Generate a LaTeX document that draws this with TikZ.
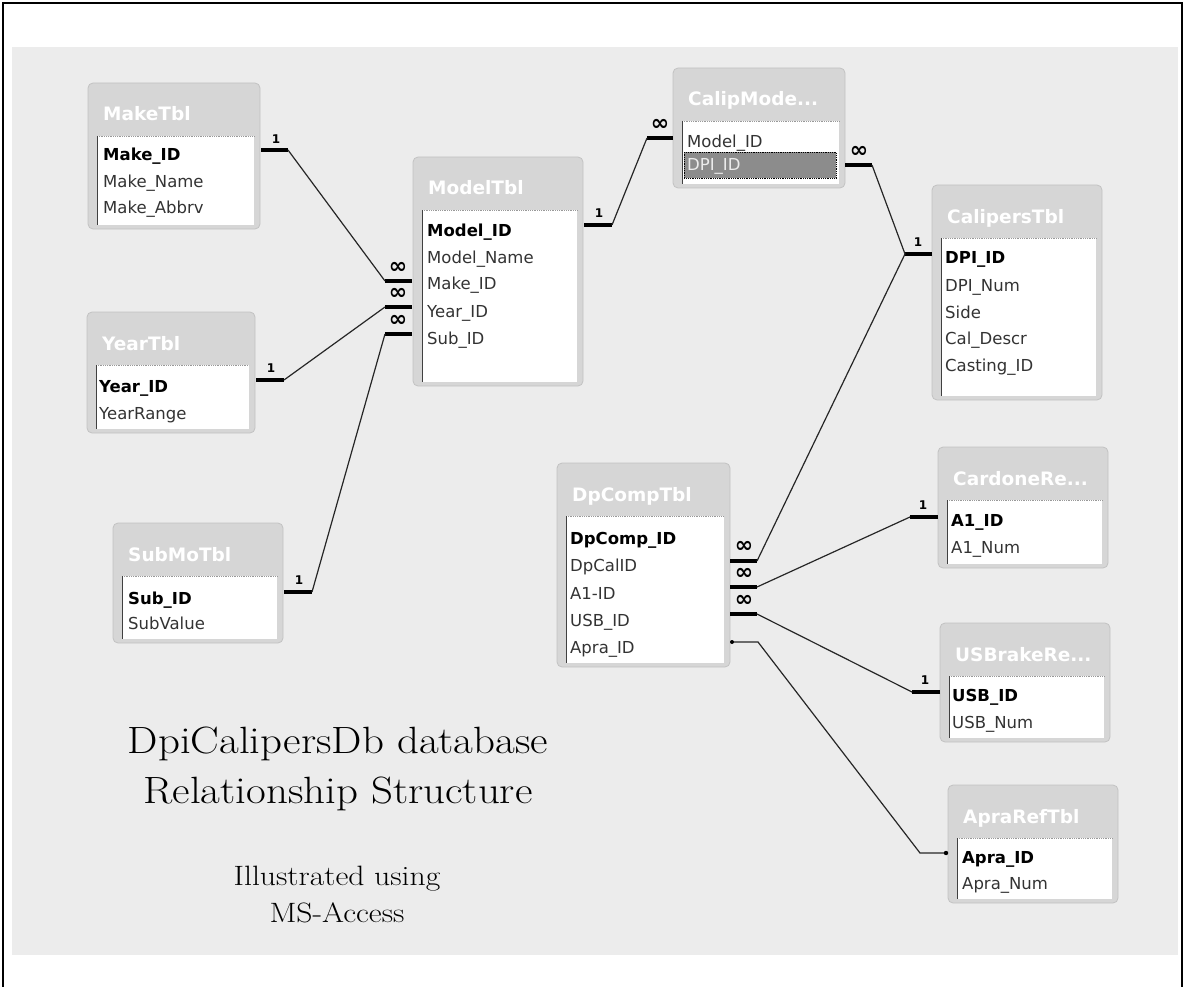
\documentclass[tikz,border=0pt]{standalone}
\usepackage{fontspec}
\newfontfamily\tblfont{DejaVu Sans}
\usetikzlibrary{calc}
\definecolor{panel}{HTML}{ECECEC}
\definecolor{boxgray}{HTML}{D6D6D6}
\definecolor{boxedge}{HTML}{C2C2C2}
\tikzset{
  tblbox/.style={draw=boxedge, fill=boxgray, rounded corners=5pt, line width=0.8pt, outer sep=0pt, inner sep=0pt},
  tbltitle/.style={font=\tblfont\bfseries\fontsize{18.5}{22}\selectfont, text=white, inner sep=0pt, anchor=base west},
  fld/.style={font=\tblfont\fontsize{16.5}{20}\selectfont, inner sep=0pt, anchor=base west, text=black!80},
  keyfld/.style={font=\tblfont\bfseries\fontsize{16.5}{20}\selectfont, inner sep=0pt, anchor=base west, text=black},
  bar/.style={line width=4pt, black},
  rel/.style={line width=1.2pt, black!85},
  onelbl/.style={font=\tblfont\bfseries\fontsize{12}{14}\selectfont, inner sep=0pt},
  manylbl/.style={font=\tblfont\bfseries\fontsize{22}{24}\selectfont, inner sep=0pt},
  titletext/.style={inner sep=0pt, anchor=base},
}
\newcommand{\dbtbl}[6]{%
  \node[tblbox, anchor=north west, minimum width={#4-#2}, minimum height={#5-#3}] (#1) at (#2,#3) {};
  \fill[white] ($(#1.north west)+(9,53)$) rectangle ($(#1.south east)+(-6,-4)$);
  \draw[black!40, densely dotted, line width=0.8pt] ($(#1.north west)+(9,53)$) -- ($(#1.north east)+(-6,53)$);
  \draw[black!75, line width=1pt] ($(#1.north west)+(9,53)$) -- ($(#1.south west)+(9,-4)$);
  \node[tbltitle] (#1-title) at ($(#1.north west)+(15,38)$) {#6};
}
\begin{document}
\begin{tikzpicture}[x=1pt, y=-1pt]
\useasboundingbox (0,0) rectangle (1185,987);
\fill[white] (0,0) rectangle (1185,987);
\fill[panel] (12,47) rectangle (1178,955);
\draw[line width=1.2pt] (3,987) -- (3,3) -- (1182,3) -- (1182,987);

% tables
\dbtbl{make}{88}{83}{260}{229}{MakeTbl}
\node[keyfld] (mk1) at (103,161) {Make\_ID};
\node[fld] (mk2) at (103,187) {Make\_Name};
\node[fld] (mk3) at (103,213) {Make\_Abbrv};

\dbtbl{model}{413}{157}{583}{386}{ModelTbl}
\node[keyfld] (mo1) at (427,236) {Model\_ID};
\node[fld] (mo2) at (427,263) {Model\_Name};
\node[fld] (mo3) at (427,289) {Make\_ID};
\node[fld] (mo4) at (427,317) {Year\_ID};
\node[fld] (mo5) at (427,344) {Sub\_ID};

\dbtbl{calmod}{673}{68}{845}{188}{CalipMode...}
\node[fld] (cm1) at (687,148) {Model\_ID};
\node[draw=black, densely dotted, fill=black!45, line width=0.8pt, minimum width=152, minimum height=26, anchor=north west, inner sep=0pt] (hl) at (684,152) {};
\node[fld, text=black!8] (cm2) at (687,171) {DPI\_ID};

\dbtbl{cal}{932}{185}{1102}{400}{CalipersTbl}
\node[keyfld] (ca1) at (945,263) {DPI\_ID};
\node[fld] (ca2) at (945,291) {DPI\_Num};
\node[fld] (ca3) at (945,318) {Side};
\node[fld] (ca4) at (945,344) {Cal\_Descr};
\node[fld] (ca5) at (945,371) {Casting\_ID};

\dbtbl{year}{87}{312}{255}{433}{YearTbl}
\node[keyfld] (ye1) at (99,392) {Year\_ID};
\node[fld] (ye2) at (99,419) {YearRange};

\dbtbl{sub}{113}{523}{283}{643}{SubMoTbl}
\node[keyfld] (su1) at (128,604) {Sub\_ID};
\node[fld] (su2) at (128,629) {SubValue};

\dbtbl{dp}{557}{463}{730}{667}{DpCompTbl}
\node[keyfld] (dp1) at (570,544) {DpComp\_ID};
\node[fld] (dp2) at (570,571) {DpCalID};
\node[fld] (dp3) at (570,599) {A1-ID};
\node[fld] (dp4) at (570,626) {USB\_ID};
\node[fld] (dp5) at (570,653) {Apra\_ID};

\dbtbl{card}{938}{447}{1108}{568}{CardoneRe...}
\node[keyfld] (cr1) at (951,526) {A1\_ID};
\node[fld] (cr2) at (951,553) {A1\_Num};

\dbtbl{usb}{940}{623}{1110}{742}{USBrakeRe...}
\node[keyfld] (us1) at (952,701) {USB\_ID};
\node[fld] (us2) at (952,728) {USB\_Num};

\dbtbl{apra}{948}{785}{1118}{903}{ApraRefTbl}
\node[keyfld] (ap1) at (962,863) {Apra\_ID};
\node[fld] (ap2) at (962,889) {Apra\_Num};

% connector end points
\coordinate (mkA) at (261,150); \coordinate (mkB) at (288,150);
\coordinate (moMkA) at (412,281); \coordinate (moMkB) at (385,281);
\coordinate (moYeA) at (412,307); \coordinate (moYeB) at (385,307);
\coordinate (moSuA) at (412,334); \coordinate (moSuB) at (385,334);
\coordinate (yeA) at (256,380); \coordinate (yeB) at (284,380);
\coordinate (suA) at (284,592); \coordinate (suB) at (312,592);
\coordinate (moIdA) at (584,225); \coordinate (moIdB) at (612,225);
\coordinate (cmMoA) at (673,138); \coordinate (cmMoB) at (647,138);
\coordinate (cmDpA) at (845,165); \coordinate (cmDpB) at (872,165);
\coordinate (caA) at (932,254); \coordinate (caB) at (905,254);
\coordinate (dpCaA) at (730,561); \coordinate (dpCaB) at (757,561);
\coordinate (dpA1A) at (730,587); \coordinate (dpA1B) at (757,587);
\coordinate (dpUsA) at (730,614); \coordinate (dpUsB) at (757,614);
\coordinate (crA) at (938,517); \coordinate (crB) at (910,517);
\coordinate (usA) at (940,692); \coordinate (usB) at (912,692);
\coordinate (dpApA) at (732,642); \coordinate (dpApB) at (758,642);
\coordinate (apA) at (946,853); \coordinate (apB) at (920,853);

% bars
\foreach \a/\b in {mkA/mkB, moMkA/moMkB, moYeA/moYeB, moSuA/moSuB, yeA/yeB, suA/suB,
  moIdA/moIdB, cmMoA/cmMoB, cmDpA/cmDpB, caA/caB, dpCaA/dpCaB, dpA1A/dpA1B, dpUsA/dpUsB,
  crA/crB, usA/usB}
  \draw[bar] (\a) -- (\b);

% relation lines
\draw[rel] (mkB) -- (moMkB);
\draw[rel] (yeB) -- (moYeB);
\draw[rel] (suB) -- (moSuB);
\draw[rel] (moIdB) -- (cmMoB);
\draw[rel] (cmDpB) -- (caB);
\draw[rel] (dpCaB) -- (caB);
\draw[rel] (dpA1B) -- (crB);
\draw[rel] (dpUsB) -- (usB);
\draw[rel] (dpApA) -- (dpApB) -- (apB) -- (apA);
\fill (dpApA) circle (2pt);
\fill (apA) circle (2.2pt);

% cardinality labels
\node[onelbl] (l1) at (276,139) {1};
\node[manylbl] (m1) at (398,268) {∞};
\node[manylbl] (m2) at (398,294) {∞};
\node[manylbl] (m3) at (398,321) {∞};
\node[onelbl] (l2) at (271,368) {1};
\node[onelbl] (l3) at (299,580) {1};
\node[onelbl] (l4) at (599,213) {1};
\node[manylbl] (m4) at (660,125) {∞};
\node[manylbl] (m5) at (859,152) {∞};
\node[onelbl] (l5) at (918,242) {1};
\node[manylbl] (m6) at (744,547) {∞};
\node[manylbl] (m7) at (744,574) {∞};
\node[manylbl] (m8) at (744,601) {∞};
\node[onelbl] (l6) at (923,505) {1};
\node[onelbl] (l7) at (925,680) {1};

% caption
\node[titletext, font=\fontsize{38}{44}\selectfont] (cap1) at (338,753) {\scalebox{1.13}[1]{DpiCalipersDb database}};
\node[titletext, font=\fontsize{38}{44}\selectfont] (cap2) at (338,803) {\scalebox{1.13}[1]{Relationship Structure}};
\node[titletext, font=\fontsize{28}{32}\selectfont] (cap3) at (337,885) {\scalebox{1.13}[1]{Illustrated using}};
\node[titletext, font=\fontsize{28}{32}\selectfont] (cap4) at (337,922) {\scalebox{1.13}[1]{MS-Access}};
\end{tikzpicture}
\end{document}
